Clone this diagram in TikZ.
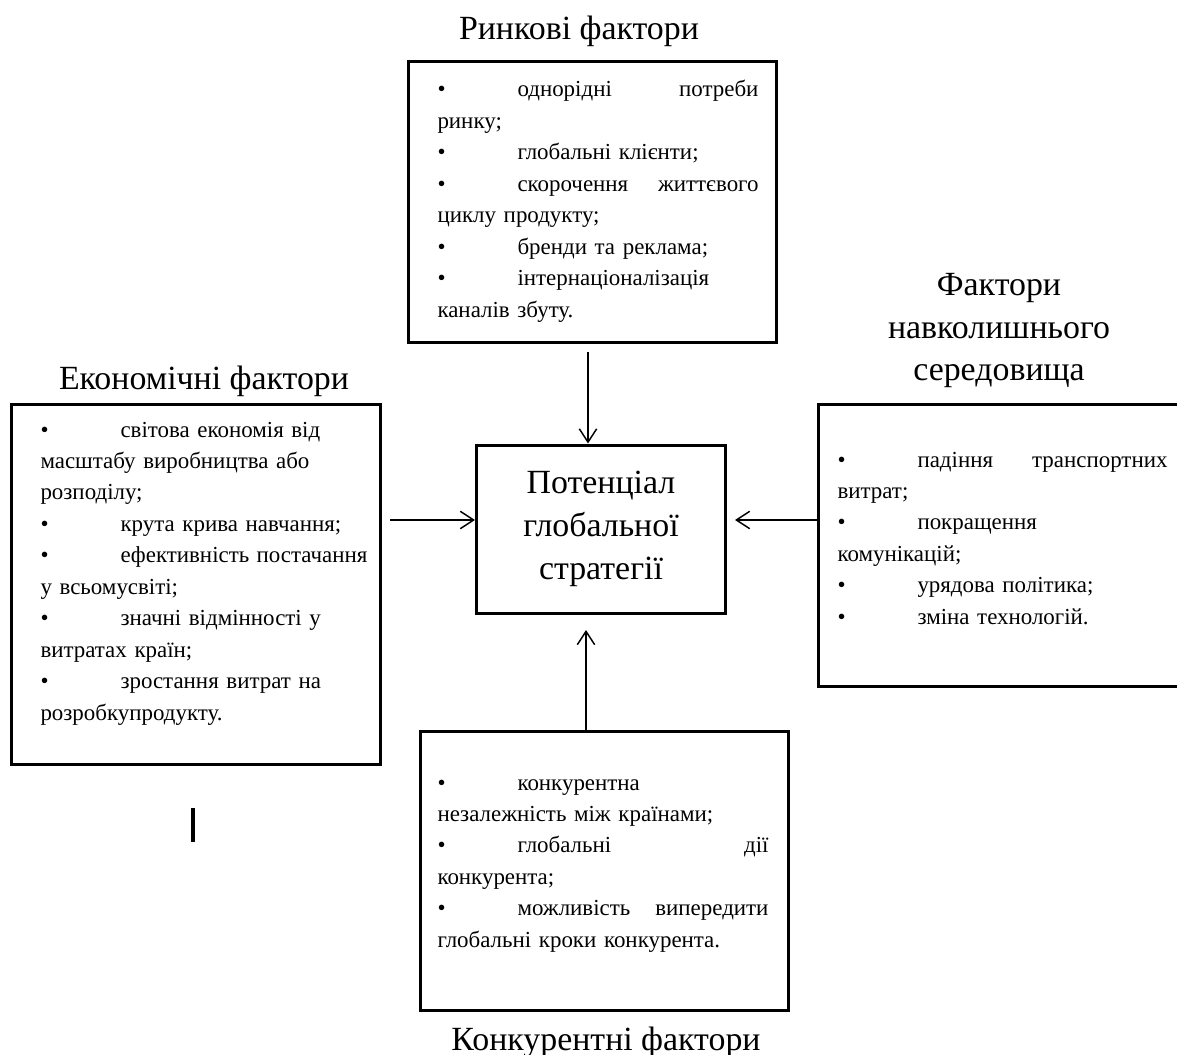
\documentclass[tikz,border=0pt]{standalone}
\usepackage{fontspec}
\setmainfont{Liberation Serif}
\usetikzlibrary{arrows.meta}

\tikzset{every picture/.style={line width=0.75pt}}
\tikzset{
  factorbox/.style={draw, line width=2.25pt, inner sep=0pt},
  factorlist/.style={inner sep=0pt, align=left, font=\fontsize{17.2}{23.6}\selectfont},
  factortitle/.style={inner sep=0pt, align=center, font=\fontsize{25.4}{31.5}\selectfont},
  inflow/.style={-{Straight Barb[length=10pt,width=13pt]}, line width=1.1pt},
}
\newcommand{\bul}{\makebox[60pt][l]{\textbullet}}

\begin{document}
\begin{tikzpicture}[x=0.75pt,y=0.75pt,yscale=-1,xscale=1]
\useasboundingbox (0,0) rectangle (1177,1055);

% Boxes
\node[factorbox, minimum width=276pt, minimum height=210.75pt] (mkt) at (592,202.5) {};
\node[factorbox, minimum width=276.75pt, minimum height=270pt] (eco) at (195.5,584) {};
\node[factorbox, minimum width=279pt, minimum height=211.5pt] (env) at (1004,545) {};
\node[factorbox, minimum width=276pt, minimum height=209.25pt] (cmp) at (604,870.5) {};
\node[factorbox, minimum width=186.75pt, minimum height=126pt, align=center,
      font=\fontsize{25.4}{32}\selectfont] (pot) at (601,529) {Потенціал\\глобальної\\стратегії};

% Titles
\node[factortitle, anchor=base] (mkttitle) at (579,40) {Ринкові фактори};
\node[factortitle, anchor=base] (ecotitle) at (204,389) {Економічні фактори};
\node[factortitle, anchor=base] (envtitle) at (999,380) {Фактори\\навколишнього\\середовища};
\node[factortitle, anchor=base] (cmptitle) at (606,1050) {Конкурентні фактори};

% Lists
\node[factorlist, text width=240.75pt, anchor=base west] (mkttxt) at (437,97) {%
\bul однорідні\hfill потреби\\
ринку;\\
\bul глобальні клієнти;\\
\bul скорочення\hfill життєвого\\
циклу продукту;\\
\bul бренди та реклама;\\
\bul інтернаціоналізація\\
каналів збуту.};
\node[factorlist, text width=245.25pt, anchor=base west] (ecotxt) at (40,437) {%
\bul світова економія від\\
масштабу виробництва або\\
розподілу;\\
\bul крута крива навчання;\\
\bul ефективність\hfill постачання\\
у всьомусвіті;\\
\bul значні відмінності у\\
витратах країн;\\
\bul зростання витрат на\\
розробкупродукту.};
\node[factorlist, text width=247.5pt, anchor=base west] (envtxt) at (837,467) {%
\bul падіння\hfill транспортних\\
витрат;\\
\bul покращення\\
комунікацій;\\
\bul урядова політика;\\
\bul зміна технологій.};
\node[factorlist, text width=248.25pt, anchor=base west] (cmptxt) at (437,790) {%
\bul конкурентна\\
незалежність між країнами;\\
\bul глобальні\hfill дії\\
конкурента;\\
\bul можливість\hfill випередити\\
глобальні кроки конкурента.};

% Arrows
\coordinate (mktout) at (588,352);
\coordinate (ecoout) at (390,520);
\coordinate (envin) at (735,520);
\coordinate (cmpin) at (586,630);
\draw[inflow] (mktout) -- (mktout |- pot.north);
\draw[inflow] (ecoout) -- (ecoout -| pot.west);
\draw[inflow] (env.west |- envin) -- (envin);
\draw[inflow] (cmp.north -| cmpin) -- (cmpin);

% stray mark
\draw[line width=3pt] (193,808) -- (193,842);

\end{tikzpicture}
\end{document}
